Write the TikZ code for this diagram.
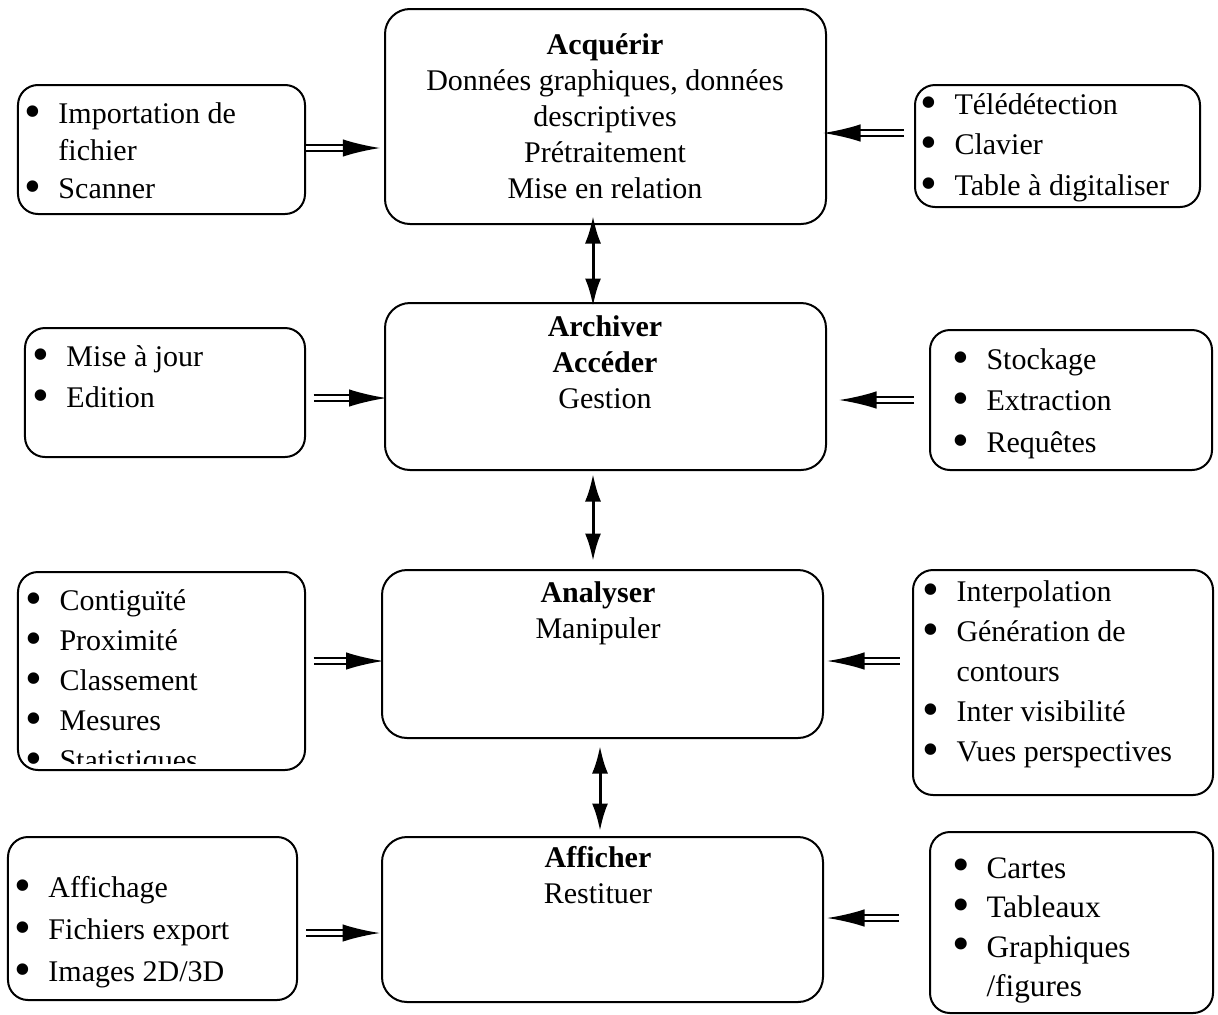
\documentclass[tikz,border=0pt]{standalone}
\usepackage{graphicx}
\usepackage{fontspec}
\setmainfont{Liberation Serif}
\usetikzlibrary{arrows.meta}

\newcommand{\itm}[1]{\makebox[13.6pt][l]{\smash{\raisebox{-1.5pt}{\scalebox{1.6}{\textbullet}}}}#1}
\newcommand{\cnt}[1]{\hspace*{13.6pt}#1}

\begin{document}
\begin{tikzpicture}[x=0.4pt,y=-0.4pt,>={Latex[length=11pt,width=6.4pt]}]
    \tikzstyle{box}=[draw, line width=0.8pt, rounded corners=8pt, inner sep=0pt]
    \tikzstyle{main}=[box, rounded corners=10pt, minimum width=176.4pt]
    \tikzstyle{maintxt}=[inner sep=0pt, align=center, anchor=north, font=\fontsize{12}{14.4}\selectfont]
    \tikzstyle{list}=[inner sep=0pt, align=left, anchor=north west]
    \tikzstyle{dbl}=[double, double distance=1.4pt, line width=0.8pt, -{Latex[length=15pt,width=7pt]}]
    \tikzstyle{updown}=[<->, line width=1.2pt]

    \useasboundingbox (0,0) rectangle (1218,1014);

    % central column
    \node[main, minimum height=86pt] (acq) at (605.5,116.5) {};
    \node[main, minimum height=66.8pt] (arch) at (605.5,386.5) {};
    \node[main, minimum height=67.2pt] (anal) at (602.5,654) {};
    \node[main, minimum height=66pt] (aff) at (602.5,919.5) {};

    \node[maintxt] (acqt) at (605,33) {\textbf{Acquérir}\\Données graphiques, données\\descriptives\\Prétraitement\\Mise en relation};
    \node[maintxt] (archt) at (605,315) {\textbf{Archiver}\\\textbf{Accéder}\\Gestion};
    \node[maintxt] (analt) at (598,581) {\textbf{Analyser}\\Manipuler};
    \node[maintxt] (afft) at (598,846) {\textbf{Afficher}\\Restituer};

    % left column
    \node[box, minimum width=114.8pt, minimum height=51.6pt] (l1) at (161.5,149.5) {};
    \node[box, minimum width=112pt, minimum height=51.6pt] (l2) at (165,392.5) {};
    \node[box, minimum width=114.8pt, minimum height=79.2pt] (l3) at (161.5,671) {};
    \node[box, minimum width=115.6pt, minimum height=65.2pt] (l4) at (152.5,918.5) {};

    \node[list, font=\fontsize{12}{15}\selectfont] (l1t) at (24,102) {\itm{Importation de}\\\cnt{fichier}\\\itm{Scanner}};
    \node[list, font=\fontsize{12}{16.4}\selectfont] (l2t) at (32,345) {\itm{Mise à jour}\\\itm{Edition}};
    \begin{scope}
        \clip (l3.north west) rectangle (305,763);
        \node[list, font=\fontsize{12}{16}\selectfont] (l3t) at (25,589) {\itm{Contiguïté}\\\itm{Proximité}\\\itm{Classement}\\\itm{Mesures}\\\itm{Statistiques}};
    \end{scope}
    \node[list, font=\fontsize{12}{16.8}\selectfont] (l4t) at (14,876) {\itm{Affichage}\\\itm{Fichiers export}\\\itm{Images 2D/3D}};

    % right column
    \node[box, minimum width=114pt, minimum height=48.8pt] (r1) at (1057.5,146) {};
    \node[box, minimum width=112.8pt, minimum height=56pt] (r2) at (1071,400) {};
    \node[box, minimum width=120pt, minimum height=90pt] (r3) at (1063,682.5) {};
    \node[box, minimum width=113.2pt, minimum height=72.4pt] (r4) at (1071.5,922.5) {};

    \node[list, font=\fontsize{12}{16.2}\selectfont] (r1t) at (920,93) {\itm{Télédétection}\\\itm{Clavier}\\\itm{Table à digitaliser}};
    \node[list, font=\fontsize{12}{16.6}\selectfont] (r2t) at (952,348) {\itm{Stockage}\\\itm{Extraction}\\\itm{Requêtes}};
    \node[list, font=\fontsize{12}{16}\selectfont] (r3t) at (922,580) {\itm{Interpolation}\\\itm{Génération de}\\\cnt{contours}\\\itm{Inter visibilité}\\\itm{Vues perspectives}};
    \node[list, font=\fontsize{12.5}{15.8}\selectfont] (r4t) at (952,857) {\itm{Cartes}\\\itm{Tableaux}\\\itm{Graphiques}\\\cnt{/figures}};

    % inputs
    \draw[dbl, shorten >=1.5pt] (l1.east |- 0,148) -- (acq.west |- 0,148);
    \draw[dbl, shorten <=4pt, shorten >=-1.6pt] (r1.west |- 0,133) -- (acq.east |- 0,133);
    \draw[dbl, shorten <=3pt, shorten >=-1pt] (l2.east |- 0,398) -- (arch.west |- 0,398);
    \draw[dbl, shorten <=6pt, shorten >=4.8pt] (r2.west |- 0,400) -- (arch.east |- 0,400);
    \draw[dbl, shorten <=3pt, shorten >=-1pt] (l3.east |- 0,661) -- (anal.west |- 0,661);
    \draw[dbl, shorten <=5pt, shorten >=1.2pt] (r3.west |- 0,661) -- (anal.east |- 0,661);
    \draw[dbl, shorten <=3.2pt, shorten >=0.4pt] (l4.east |- 0,933) -- (aff.west |- 0,933);
    \draw[dbl, shorten <=12pt, shorten >=1.2pt] (r4.west |- 0,918) -- (aff.east |- 0,918);

    % between stages
    \draw[updown, shorten <=-3.6pt, shorten >=-1.6pt] (acq.south -| 593,0) -- (arch.north -| 593,0);
    \draw[updown, shorten <=1.2pt, shorten >=3.2pt] (arch.south -| 593,0) -- (anal.north -| 593,0);
    \draw[updown, shorten <=2.8pt, shorten >=2pt] (anal.south -| 600,0) -- (aff.north -| 600,0);
\end{tikzpicture}
\end{document}
